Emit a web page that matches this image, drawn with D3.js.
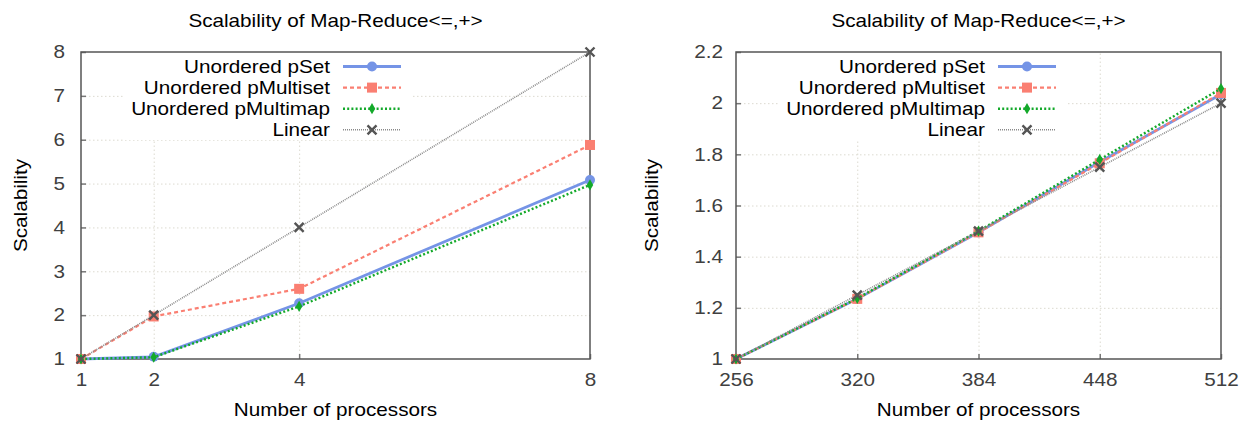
<!DOCTYPE html>
<html>
<head>
<meta charset="utf-8">
<script src="https://cdn.jsdelivr.net/npm/d3@7"></script>
<style>
  body { margin: 0; background: #fff; }
  svg { display: block; font-family: "Liberation Sans", Arial, sans-serif; }
</style>
</head>
<body>
<div id="chart"></div>
<script>
// series names shared by both panels
const seriesNames = ["Unordered pSet", "Unordered pMultiset", "Unordered pMultimap", "Linear"];

// left panel: 1..8 processors
const procsSmall = [1, 2, 4, 8];
const pSetSmall = [1, 1.05, 2.27, 5.08];
const pMultisetSmall = [1, 1.97, 2.6, 5.88];
const pMultimapSmall = [1, 1.04, 2.2, 4.97];
const linearSmall = [1, 2, 4, 8];
const yTicksSmall = [1, 2, 3, 4, 5, 6, 7, 8];

// right panel: 256..512 processors
const procsLarge = [256, 320, 384, 448, 512];
const pSetLarge = [1, 1.235, 1.495, 1.77, 2.035];
const pMultisetLarge = [1, 1.235, 1.495, 1.765, 2.04];
const pMultimapLarge = [1, 1.237, 1.5, 1.78, 2.057];
const linearLarge = [1, 1.25, 1.5, 1.75, 2.0];
const yTicksLarge = [1, 1.2, 1.4, 1.6, 1.8, 2, 2.2];

const width = 1244, height = 422;
const plotTop = 52, plotBottom = 359;
const fontSize = "18px";
const sx = 1.15; // picture is a bit wider than the font

const styles = [
  {color: "#7594e6", width: 2.8, dash: null, marker: "circle"},
  {color: "#fa7f72", width: 2.2, dash: "4,3", marker: "square"},
  {color: "#13a92a", width: 2.4, dash: "2,2.2", marker: "diamond"},
  {color: "#8a8a8a", width: 1.6, dash: "1,1", marker: "cross"}
];

const svg = d3.select("#chart").append("svg")
  .attr("width", width)
  .attr("height", height);

function label(g, x, y, txt, anchor, rotate) {
  return g.append("text")
    .attr("transform", `translate(${x},${y})` + (rotate ? " rotate(-90)" : "") + ` scale(${sx},1)`)
    .attr("text-anchor", anchor)
    .attr("font-size", fontSize)
    .text(txt);
}

function drawPanel(p) {
  const g = svg.append("g").attr("transform", `translate(${p.offsetX},0)`);
  const x0 = p.left, x1 = p.right;
  const procs = p.procs;
  const x = d3.scaleLinear().domain([procs[0], procs[procs.length - 1]]).range([x0, x1]);
  const y = d3.scaleLinear().domain(p.yDomain).range([plotBottom, plotTop]);
  const ih = plotBottom - plotTop;

  // grid
  g.append("g")
    .attr("transform", `translate(0,${plotBottom})`)
    .call(d3.axisBottom(x).tickValues(procs.slice(1, -1)).tickSize(-ih).tickFormat(""))
    .call(a => a.select(".domain").remove())
    .selectAll("line").attr("stroke", "#dcdad0").attr("stroke-dasharray", "1.5,2.5");
  g.append("g")
    .attr("transform", `translate(${x0},0)`)
    .call(d3.axisLeft(y).tickValues(p.yTicks.slice(1, -1)).tickSize(-(x1 - x0)).tickFormat(""))
    .call(a => a.select(".domain").remove())
    .selectAll("line").attr("stroke", "#dcdad0").attr("stroke-dasharray", "1.5,2.5");

  // legend background hides grid
  g.append("rect")
    .attr("x", x0 + 44).attr("y", plotTop + 1)
    .attr("width", 287).attr("height", 87)
    .attr("fill", "#fff");

  // axes, ticks inward
  const xa = g.append("g")
    .attr("transform", `translate(0,${plotBottom})`)
    .call(d3.axisBottom(x).tickValues(procs).tickSizeInner(-5).tickSizeOuter(0).tickPadding(14).tickFormat(d3.format("d")));
  xa.select(".domain").remove();
  xa.selectAll("line").attr("stroke", "#777").attr("stroke-width", 1.5);
  xa.selectAll("text")
    .attr("font-size", fontSize).attr("fill", "#404040").attr("font-family", null)
    .attr("transform", `scale(${sx},1)`);

  const ya = g.append("g")
    .attr("transform", `translate(${x0},0)`)
    .call(d3.axisLeft(y).tickValues(p.yTicks).tickSizeInner(-5).tickSizeOuter(0).tickFormat(p.fmt));
  ya.select(".domain").remove();
  ya.selectAll("line").attr("stroke", "#777").attr("stroke-width", 1.5);
  ya.selectAll("text")
    .attr("font-size", fontSize).attr("fill", "#404040").attr("font-family", null)
    .attr("x", -p.yPad / sx)
    .attr("transform", `scale(${sx},1)`);

  g.append("rect")
    .attr("x", x0).attr("y", plotTop)
    .attr("width", x1 - x0).attr("height", ih)
    .attr("fill", "none").attr("stroke", "#555").attr("stroke-width", 1.5);

  const line = d3.line().x((d, i) => x(procs[i])).y(d => y(d));
  p.series.forEach((vals, k) => {
    const s = styles[k];
    g.append("path")
      .datum(vals)
      .attr("d", line)
      .attr("fill", "none")
      .attr("stroke", s.color)
      .attr("stroke-width", s.width)
      .attr("stroke-dasharray", s.dash);
    vals.forEach((v, i) => drawMarker(g, s, x(procs[i]), y(v)));
  });

  // legend
  const lx = x0 + 249;
  seriesNames.forEach((name, k) => {
    const s = styles[k];
    const ly = 66.5 + k * 21.1;
    label(g, lx, ly + 6.5, name, "end");
    g.append("line")
      .attr("x1", lx + 13).attr("x2", lx + 71)
      .attr("y1", ly).attr("y2", ly)
      .attr("stroke", s.color)
      .attr("stroke-width", s.width)
      .attr("stroke-dasharray", s.dash);
    drawMarker(g, s, lx + 42, ly);
  });

  // titles
  const cx = (x0 + x1) / 2;
  label(g, cx, 27, "Scalability of Map-Reduce<=,+>", "middle");
  label(g, cx, 416, "Number of processors", "middle");
  label(g, p.yLabelX + 6.5, (plotTop + plotBottom) / 2, "Scalability", "middle", true);
}

function drawMarker(g, s, cx, cy) {
  if (s.marker === "circle") {
    g.append("circle").attr("cx", cx).attr("cy", cy).attr("r", 5).attr("fill", s.color);
  } else if (s.marker === "square") {
    g.append("rect").attr("x", cx - 5).attr("y", cy - 5).attr("width", 10).attr("height", 10).attr("fill", s.color);
  } else if (s.marker === "diamond") {
    g.append("path")
      .attr("d", d3.symbol(d3.symbolDiamond, 36)())
      .attr("transform", `translate(${cx},${cy})`)
      .attr("fill", s.color);
  } else {
    g.append("path")
      .attr("d", `M${cx - 4.5},${cy - 4.5}L${cx + 4.5},${cy + 4.5}M${cx - 4.5},${cy + 4.5}L${cx + 4.5},${cy - 4.5}`)
      .attr("stroke", "#555").attr("stroke-width", 2.4);
  }
}

drawPanel({
  offsetX: 0, left: 81, right: 590, yLabelX: 20, yPad: 16,
  procs: procsSmall,
  series: [pSetSmall, pMultisetSmall, pMultimapSmall, linearSmall],
  yDomain: [1, 8], yTicks: yTicksSmall, fmt: d3.format("d")
});

drawPanel({
  offsetX: 620, left: 116, right: 601, yLabelX: 31, yPad: 13,
  procs: procsLarge,
  series: [pSetLarge, pMultisetLarge, pMultimapLarge, linearLarge],
  yDomain: [1, 2.2], yTicks: yTicksLarge, fmt: d => String(+d.toFixed(1))
});
</script>
</body>
</html>
